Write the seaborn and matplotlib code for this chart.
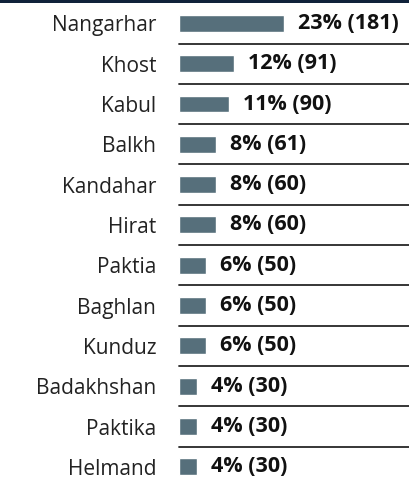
import matplotlib
matplotlib.use("Agg")
import matplotlib.pyplot as plt
import seaborn as sns
import pandas as pd
from matplotlib.lines import Line2D
from matplotlib.patches import Rectangle

provinces = ["Nangarhar", "Khost", "Kabul", "Balkh", "Kandahar", "Hirat",
             "Paktia", "Baghlan", "Kunduz", "Badakhshan", "Paktika", "Helmand"]
percents = [23, 12, 11, 8, 8, 8, 6, 6, 6, 4, 4, 4]
counts = [181, 91, 90, 61, 60, 60, 50, 50, 50, 30, 30, 30]

df = pd.DataFrame({"province": provinces, "percent": percents, "count": counts})

sns.set_theme(style="white")
plt.rcParams["font.family"] = ["Open Sans", "DejaVu Sans"]

W, H = 409, 477
fig = plt.figure(figsize=(W / 100 + 0.001, H / 100 + 0.001), dpi=100)

n = len(provinces)
row_h = 40.3
top_px = 3.3
ax_h = row_h * n
left_px = 179
ax = fig.add_axes([left_px / W, 1 - (top_px + ax_h) / H,
                   (W - left_px) / W, ax_h / H])

sns.barplot(data=df, x="percent", y="province", orient="h", color="#566f7b",
            saturation=1, width=0.42, ax=ax)

ax.set_xlim(0, (W - left_px) / 4.57)
ax.set_ylim(n - 0.5, -0.5)

# separator rules between rows, spanning the full plotting width
for i in range(1, n):
    yf = 1 - i / n
    ax.add_line(Line2D([0, 1], [yf, yf], transform=ax.transAxes,
                       color="#262626", lw=1.3, zorder=3, clip_on=False))

labels = [f"{p}% ({c})" for p, c in zip(percents, counts)]
ax.bar_label(ax.containers[0], labels=labels, padding=10,
             fontsize=15.5, fontweight="bold", color="#111111")

ax.set_xlabel("")
ax.set_ylabel("")
ax.set_xticks([])
ax.tick_params(axis="y", length=0, pad=16.5, labelsize=15, labelcolor="#222222")
for s in ax.spines.values():
    s.set_visible(False)

# dark header strip along the top edge
fig.add_artist(Rectangle((0, 1 - 3.2 / H), 1, 3.2 / H, transform=fig.transFigure,
                         color="#10223a", lw=0))

fig.savefig("out.png", dpi=100)
